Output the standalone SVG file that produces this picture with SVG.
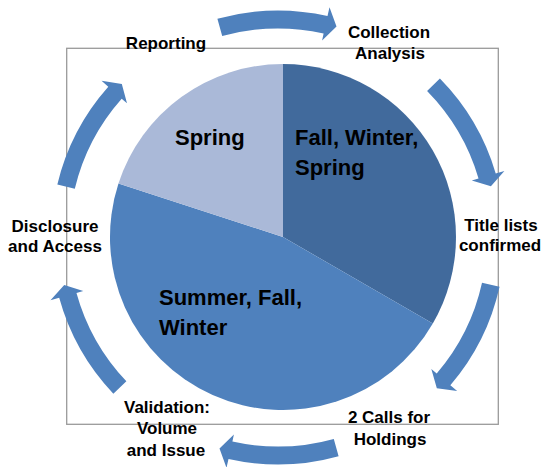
<svg xmlns="http://www.w3.org/2000/svg" width="545" height="467" viewBox="0 0 545 467">
  <style>
    .lbl { font-family: "Liberation Sans", Arial, sans-serif; font-weight: bold; font-size: 17px; fill: #000; text-anchor: middle; }
    .pl { font-family: "Liberation Sans", Arial, sans-serif; font-weight: bold; font-size: 22px; fill: #000; }
    .arr { fill: #4F81BD; }
  </style>
  <defs>
    <path id="arrow" d="M217.4,18.8 A227,227 0 0 1 327.5,16.0 L329.5,7.2 L336.5,26.5 L322.1,40.4 L323.6,33.5 A209,209 0 0 0 222.2,36.1 Z"/>
  </defs>
  <rect x="66.7" y="48.3" width="431.6" height="376" fill="none" stroke="#9a9a9a" stroke-width="1.3"/>
  <g id="pie">
    <g id="slice-fall-winter-spring">
      <path d="M283,237 L283,64 A173,173 0 0 1 432.82,323.5 Z" fill="#416A9C"/>
      <text class="pl" x="295" y="145">Fall, Winter,</text>
      <text class="pl" x="295" y="175">Spring</text>
    </g>
    <g id="slice-summer-fall-winter">
      <path d="M283,237 L432.82,323.5 A173,173 0 0 1 118.46,183.54 Z" fill="#4F81BD"/>
      <text class="pl" x="159" y="305">Summer, Fall,</text>
      <text class="pl" x="159" y="335">Winter</text>
    </g>
    <g id="slice-spring">
      <path d="M283,237 L118.46,183.54 A173,173 0 0 1 283,64 Z" fill="#AAB9D8"/>
      <text class="pl" x="175" y="145">Spring</text>
    </g>
  </g>
  <g id="connectors">
    <use href="#arrow" class="arr"/>
    <use href="#arrow" class="arr" transform="rotate(61 278 237.5)"/>
    <use href="#arrow" class="arr" transform="rotate(118 278 237.5)"/>
    <use href="#arrow" class="arr" transform="rotate(180 278 237.5)"/>
    <use href="#arrow" class="arr" transform="rotate(242 278 237.5)"/>
    <use href="#arrow" class="arr" transform="rotate(299 278 237.5)"/>
  </g>
  <g id="collection-analysis">
    <text class="lbl" x="389" y="38">Collection</text>
    <text class="lbl" x="390" y="59">Analysis</text>
  </g>
  <g id="title-lists">
    <text class="lbl" x="501" y="231">Title lists</text>
    <text class="lbl" x="500" y="251">confirmed</text>
  </g>
  <g id="calls-for-holdings">
    <text class="lbl" x="389" y="423">2 Calls for</text>
    <text class="lbl" x="390" y="445">Holdings</text>
  </g>
  <g id="validation">
    <text class="lbl" x="167" y="413">Validation:</text>
    <text class="lbl" x="167" y="434">Volume</text>
    <text class="lbl" x="166" y="456">and Issue</text>
  </g>
  <g id="disclosure">
    <text class="lbl" x="55" y="232">Disclosure</text>
    <text class="lbl" x="55" y="252">and Access</text>
  </g>
  <g id="reporting">
    <text class="lbl" x="166" y="49">Reporting</text>
  </g>
</svg>
